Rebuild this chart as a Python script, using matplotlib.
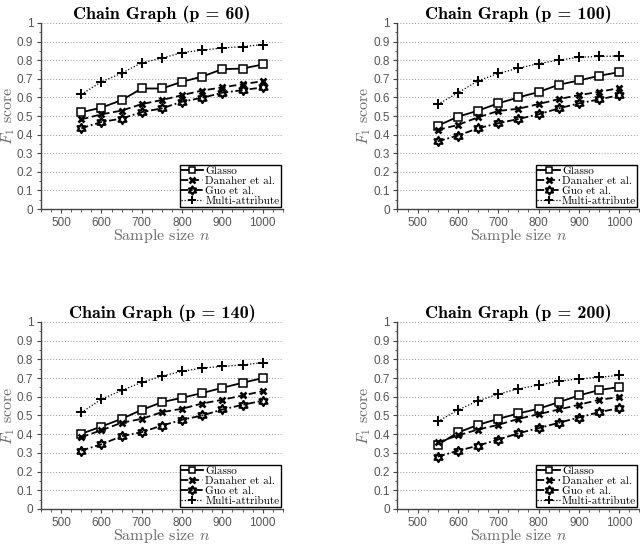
import matplotlib
matplotlib.use("Agg")
import matplotlib.pyplot as plt
from matplotlib.path import Path
from matplotlib.ticker import MultipleLocator
import numpy as np

plt.rcParams['mathtext.fontset'] = 'cm'
plt.rcParams['axes.unicode_minus'] = False

sample_sizes = [550, 600, 650, 700, 750, 800, 850, 900, 950, 1000]
methods = ["Glasso", "Danaher et al.", "Guo et al.", "Multi-attribute"]
p_values = [60, 100, 140, 200]

glasso = {
    60: [0.52, 0.545, 0.585, 0.648, 0.648, 0.684, 0.712, 0.752, 0.755, 0.777],
    100: [0.448, 0.496, 0.529, 0.568, 0.600, 0.629, 0.668, 0.691, 0.716, 0.736],
    140: [0.402, 0.441, 0.482, 0.530, 0.571, 0.595, 0.620, 0.648, 0.675, 0.700],
    200: [0.343, 0.409, 0.450, 0.482, 0.511, 0.536, 0.571, 0.607, 0.636, 0.652],
}
danaher = {
    60: [0.482, 0.509, 0.529, 0.564, 0.586, 0.612, 0.637, 0.654, 0.671, 0.687],
    100: [0.425, 0.452, 0.493, 0.527, 0.539, 0.564, 0.591, 0.612, 0.630, 0.650],
    140: [0.384, 0.421, 0.461, 0.482, 0.518, 0.536, 0.564, 0.584, 0.607, 0.630],
    200: [0.357, 0.393, 0.425, 0.450, 0.482, 0.507, 0.532, 0.557, 0.584, 0.598],
}
guo = {
    60: [0.434, 0.468, 0.486, 0.521, 0.541, 0.577, 0.598, 0.625, 0.639, 0.654],
    100: [0.364, 0.395, 0.434, 0.461, 0.484, 0.509, 0.541, 0.568, 0.589, 0.612],
    140: [0.312, 0.346, 0.389, 0.411, 0.446, 0.477, 0.500, 0.532, 0.557, 0.579],
    200: [0.280, 0.311, 0.339, 0.371, 0.405, 0.432, 0.461, 0.489, 0.518, 0.539],
}
multi = {
    60: [0.616, 0.684, 0.730, 0.786, 0.811, 0.841, 0.854, 0.866, 0.873, 0.884],
    100: [0.562, 0.625, 0.689, 0.729, 0.757, 0.782, 0.800, 0.816, 0.820, 0.823],
    140: [0.516, 0.587, 0.634, 0.677, 0.711, 0.736, 0.754, 0.762, 0.771, 0.782],
    200: [0.468, 0.529, 0.579, 0.614, 0.643, 0.662, 0.684, 0.695, 0.705, 0.714],
}

hexagram = Path.unit_regular_star(6, 0.577)

fig = plt.figure(figsize=(6.4, 5.45), dpi=100)
positions = [
    [0.064, 0.6165, 0.378, 0.3413],
    [0.621, 0.6165, 0.378, 0.3413],
    [0.064, 0.0661, 0.378, 0.3431],
    [0.621, 0.0661, 0.378, 0.3431],
]

styles = [
    dict(ls='-', marker='s', ms=5.2, mfc='white', mew=1.1, lw=1.3),
    dict(ls=(0, (4, 2)), marker='x', ms=4.5, mew=1.9, lw=1.3),
    dict(ls=(0, (4, 1.5, 1, 1.5)), marker=hexagram, ms=6.5, mfc='none', mew=1.6, lw=1.3),
    dict(ls=(0, (1, 1.5)), marker='+', ms=6.5, mew=1.4, lw=0.9),
]

tick_color = '#555555'
label_color = '#6a6a6a'

for pos, p in zip(positions, p_values):
    ax = fig.add_axes(pos)
    series = [glasso[p], danaher[p], guo[p], multi[p]]
    for name, vals, st in zip(methods, series, styles):
        ax.plot(sample_sizes, vals, color='black', label=name, **st)
    ax.set_xlim(450, 1050)
    ax.set_ylim(0, 1)
    ax.xaxis.set_major_locator(MultipleLocator(100))
    ax.xaxis.set_minor_locator(MultipleLocator(25))
    ax.yaxis.set_major_locator(MultipleLocator(0.1))
    ax.yaxis.set_minor_locator(MultipleLocator(0.05))
    ax.set_yticks(np.arange(0, 1.01, 0.1))
    ax.set_yticklabels(['0', '0.1', '0.2', '0.3', '0.4', '0.5', '0.6', '0.7', '0.8', '0.9', '1'])
    ax.spines['top'].set_visible(False)
    ax.spines['right'].set_visible(False)
    for s in ['left', 'bottom']:
        ax.spines[s].set_color('#444444')
        ax.spines[s].set_linewidth(1.0)
    ax.tick_params(which='major', direction='out', length=3, width=0.8, colors='#444444',
                   labelcolor=tick_color, labelsize=8.5, pad=2.5)
    ax.tick_params(which='minor', direction='out', length=1.8, width=0.6, colors='#444444')
    for lab in ax.get_xticklabels() + ax.get_yticklabels():
        lab.set_family('Liberation Sans')
    ax.yaxis.grid(True, which='major', linestyle=(0, (1, 2)), color='#999999', linewidth=0.7)
    ax.set_axisbelow(True)
    ax.set_title(f"Chain Graph (p = {p})", family='cmb10', fontsize=13, pad=3)
    ax.set_xlabel("Sample size $n$", family='cmr10', fontsize=11.5, color=label_color, labelpad=-1)
    ax.set_ylabel("$F_1$ score", family='cmr10', fontsize=11.5, color=label_color, labelpad=0)
    leg = ax.legend(loc='lower right', prop={'family': 'cmr10', 'size': 8},
                    frameon=True, fancybox=False, edgecolor='black', framealpha=1,
                    borderpad=0.1, labelspacing=0.0, handlelength=2.0, handletextpad=0.2,
                    borderaxespad=0.2, markerscale=0.9)
    leg.get_frame().set_linewidth(1.0)

fig.savefig("out.png", dpi=100)
